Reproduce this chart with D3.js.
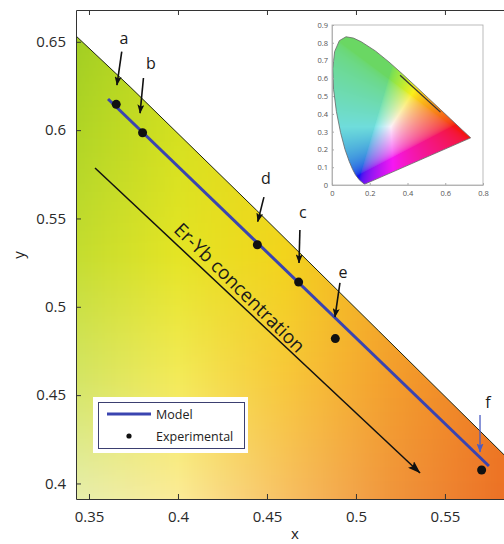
<!DOCTYPE html>
<html><head><meta charset="utf-8">
<script src="https://cdn.jsdelivr.net/npm/d3@7"></script>
<style>
body{margin:0;background:#fff;}
svg{display:block;font-family:"Open Sans",sans-serif;}
</style>
</head><body>
<script>
// ---- data ----
// CIE 1931 spectral locus (chromaticity x, y)
const locusWl = [380,420,440,450,460,470,475,480,485,490,495,500,505,510,515,520,525,530,540,550,560,570,580,590,600,620,640,700];
const locusX = [0.1741,0.1714,0.1644,0.1566,0.1440,0.1241,0.1096,0.0913,0.0687,0.0454,0.0235,0.0082,0.0039,0.0139,0.0389,0.0743,0.1142,0.1547,0.2296,0.3016,0.3731,0.4441,0.5125,0.5752,0.6270,0.6915,0.7190,0.7347];
const locusY = [0.0050,0.0051,0.0109,0.0177,0.0297,0.0578,0.0868,0.1327,0.2007,0.2950,0.4127,0.5384,0.6548,0.7502,0.8120,0.8338,0.8262,0.8059,0.7543,0.6923,0.6245,0.5547,0.4866,0.4242,0.3725,0.3083,0.2809,0.2653];

const modelX = [0.3607, 0.5747];
const modelY = [0.6176, 0.4099];

const expNames = ["a","b","d","c","e","f"];
const expX = [0.3653, 0.3801, 0.4446, 0.4678, 0.4884, 0.5706];
const expY = [0.6146, 0.5985, 0.5351, 0.5140, 0.4820, 0.4076];

// annotation arrows (data coordinates): tail, tip, label
const annTailX = [0.3684, 0.3806, 0.4483, 0.4685, 0.4910, 0.5697];
const annTailY = [0.6444, 0.6295, 0.5621, 0.5435, 0.5135, 0.4388];
const annTipX  = [0.3657, 0.3787, 0.4448, 0.4680, 0.4882, 0.5697];
const annTipY  = [0.6255, 0.6096, 0.5482, 0.5248, 0.4942, 0.4178];
const annLabX  = [0.3697, 0.3848, 0.4494, 0.4702, 0.4927, 0.5742];
const annLabY  = [0.6521, 0.6378, 0.5729, 0.5537, 0.5197, 0.4461];

const trendX = [0.3534, 0.5360];
const trendY = [0.5786, 0.4059];
const trendLabel = "Er-Yb concentration";

const xTicks = [0.35, 0.4, 0.45, 0.5, 0.55];
const yTicks = [0.4, 0.45, 0.5, 0.55, 0.6, 0.65];
const insetXTicks = [0, 0.2, 0.4, 0.6, 0.8];
const insetYTicks = [0, 0.1, 0.2, 0.3, 0.4, 0.5, 0.6, 0.7, 0.8, 0.9];

const legendLabels = ["Model", "Experimental"];

// background colour anchors of the zoomed chromaticity region
const bgGridX = [0.34, 0.40, 0.46, 0.52, 0.58];
const bgGridY = [0.39, 0.46, 0.53, 0.60, 0.67];
const bgColors = [
  ["#e6eeae", "#fbeb98", "#f7c064", "#f0953c", "#ec7226"],
  ["#d2e464", "#f3ea58", "#f7c83a", "#f39e2c", "#ef7c22"],
  ["#c2dc30", "#e4e424", "#f2d41c", "#f4aa28", "#f08c22"],
  ["#aed426", "#d4e020", "#ecd81a", "#f2b624", "#ee9622"],
  ["#9acb22", "#c2da1e", "#e4d81a", "#f0be22", "#eca022"]
];

// ---- layout ----
const W = 504, H = 544;
const L = 76, T = 10, R = 506, B = 499;
const xS = d3.scaleLinear().domain([0.3427, 0.5843]).range([L, R]);
const yS = d3.scaleLinear().domain([0.3912, 0.6680]).range([B, T]);

const svg = d3.select("body").append("svg").attr("width", W).attr("height", H);
const defs = svg.append("defs");
defs.append("clipPath").attr("id", "plotClip").append("rect")
  .attr("x", L).attr("y", T).attr("width", R - L).attr("height", B - T);

function mk(id, color, len, wid) {
  defs.append("marker").attr("id", id)
    .attr("viewBox", `0 0 ${len} ${wid}`).attr("refX", len - 0.5).attr("refY", wid / 2)
    .attr("markerWidth", len).attr("markerHeight", wid)
    .attr("markerUnits", "userSpaceOnUse").attr("orient", "auto")
    .append("path").attr("d", `M0,0 L${len},${wid/2} L0,${wid} L${len*0.2},${wid/2} Z`).attr("fill", color);
}
mk("ahK", "#111", 9, 7);
mk("ahBig", "#111", 13, 9);
mk("ahBlue", "#4a5cc4", 9, 7);

const locus = locusX.map((x, i) => [x, locusY[i]]);

// ---- main background (canvas -> image) ----
const pw = R - L, ph = B - T;
const cv = document.createElement("canvas");
cv.width = pw; cv.height = ph;
const ctx = cv.getContext("2d");
const img = ctx.createImageData(pw, ph);
const rowScales = bgColors.map(row => d3.scaleLinear().domain(bgGridX).range(row).interpolate(d3.interpolateRgb).clamp(true));
for (let i = 0; i < pw; i++) {
  const xv = xS.invert(L + i + 0.5);
  const cols = rowScales.map(s => d3.rgb(s(xv)));
  for (let j = 0; j < ph; j++) {
    const yv = yS.invert(T + j + 0.5);
    let k = 0;
    while (k < bgGridY.length - 2 && yv > bgGridY[k + 1]) k++;
    let t = (yv - bgGridY[k]) / (bgGridY[k + 1] - bgGridY[k]);
    t = Math.max(0, Math.min(1, t));
    const a = cols[k], b = cols[k + 1];
    const p = (j * pw + i) * 4;
    img.data[p] = a.r + (b.r - a.r) * t;
    img.data[p + 1] = a.g + (b.g - a.g) * t;
    img.data[p + 2] = a.b + (b.b - a.b) * t;
    img.data[p + 3] = 255;
  }
}
ctx.putImageData(img, 0, 0);

const lower = locus.filter((d, i) => locusWl[i] >= 530 && locusWl[i] <= 620);
const clipPoly = lower.concat([[lower[lower.length - 1][0], 0.2], [lower[0][0], 0.2]]);
defs.append("clipPath").attr("id", "locusClip").append("path")
  .attr("d", d3.line().x(d => xS(d[0])).y(d => yS(d[1]))(clipPoly) + "Z");

const plot = svg.append("g").attr("clip-path", "url(#plotClip)");
plot.append("g").attr("clip-path", "url(#locusClip)")
  .append("image").attr("x", L).attr("y", T).attr("width", pw).attr("height", ph)
  .attr("preserveAspectRatio", "none")
  .attr("href", cv.toDataURL());

plot.append("path").datum(locus)
  .attr("d", d3.line().x(d => xS(d[0])).y(d => yS(d[1])))
  .attr("fill", "none").attr("stroke", "#1e2410").attr("stroke-width", 1);

// ---- axes ----
const axB = svg.append("g").attr("transform", `translate(0,${B})`)
  .call(d3.axisBottom(xS).tickValues(xTicks).tickSizeInner(-5).tickSizeOuter(0).tickPadding(12).tickFormat(d3.format("")));
const axL = svg.append("g").attr("transform", `translate(${L},0)`)
  .call(d3.axisLeft(yS).tickValues(yTicks).tickSizeInner(-5).tickSizeOuter(0).tickPadding(10).tickFormat(d3.format("")));
const axT = svg.append("g").attr("transform", `translate(0,${T})`)
  .call(d3.axisTop(xS).tickValues(xTicks).tickSizeInner(-5).tickSizeOuter(0).tickFormat(""));
[axB, axL, axT].forEach(a => {
  a.select(".domain").attr("stroke", "#333").attr("stroke-width", 1);
  a.selectAll(".tick line").attr("stroke", "#333");
  a.selectAll(".tick text").attr("font-family", "Open Sans, sans-serif").attr("font-size", 15).attr("fill", "#2a2a2a");
});
svg.append("text").attr("x", 295).attr("y", 533).attr("text-anchor", "middle").attr("dominant-baseline", "central")
  .attr("font-size", 15).attr("fill", "#222").text("x");
svg.append("text").attr("transform", "translate(18,255) rotate(-90)").attr("text-anchor", "middle").attr("dominant-baseline", "central")
  .attr("font-size", 15).attr("fill", "#222").text("y");

// ---- model line & experimental points ----
const over = svg.append("g").attr("clip-path", "url(#plotClip)");
over.append("path").datum(modelX.map((x, i) => [x, modelY[i]]))
  .attr("d", d3.line().x(d => xS(d[0])).y(d => yS(d[1])))
  .attr("stroke", "#3a44b0").attr("stroke-width", 3).attr("fill", "none");
over.selectAll("circle.exp").data(expX.map((x, i) => [x, expY[i]])).join("circle")
  .attr("class", "exp").attr("cx", d => xS(d[0])).attr("cy", d => yS(d[1])).attr("r", 4.5).attr("fill", "#111");

expNames.forEach((n, i) => {
  const blue = n === "f";
  over.append("line")
    .attr("x1", xS(annTailX[i])).attr("y1", yS(annTailY[i]))
    .attr("x2", xS(annTipX[i])).attr("y2", yS(annTipY[i]))
    .attr("stroke", blue ? "#4a5cc4" : "#111").attr("stroke-width", blue ? 1.3 : 1.6)
    .attr("marker-end", blue ? "url(#ahBlue)" : "url(#ahK)");
  over.append("text").attr("x", xS(annLabX[i])).attr("y", yS(annLabY[i]))
    .attr("text-anchor", "middle").attr("dominant-baseline", "central")
    .attr("font-size", 16).attr("fill", "#1a1a1a").text(n);
});

const tx1 = xS(trendX[0]), ty1 = yS(trendY[0]), tx2 = xS(trendX[1]), ty2 = yS(trendY[1]);
over.append("line").attr("x1", tx1).attr("y1", ty1).attr("x2", tx2).attr("y2", ty2)
  .attr("stroke", "#111").attr("stroke-width", 1.5).attr("marker-end", "url(#ahBig)");
const len = Math.hypot(tx2 - tx1, ty2 - ty1);
const ux = (tx2 - tx1) / len, uy = (ty2 - ty1) / len;
const ang = Math.atan2(ty2 - ty1, tx2 - tx1) * 180 / Math.PI + 1.5;
const along = len * 0.42, perp = 5;
const cx = tx1 + ux * along + uy * perp, cy = ty1 + uy * along - ux * perp;
over.append("text").attr("transform", `translate(${cx},${cy}) rotate(${ang})`)
  .attr("text-anchor", "middle").attr("font-size", 19).attr("fill", "#1a1a1a").text(trendLabel);

// ---- legend ----
const lg = svg.append("g");
lg.append("rect").attr("x", 93).attr("y", 397).attr("width", 155).attr("height", 56).attr("fill", "#fff");
lg.append("rect").attr("x", 98.5).attr("y", 402.5).attr("width", 146).attr("height", 46)
  .attr("fill", "none").attr("stroke", "#3b3f70").attr("stroke-width", 1);
lg.append("line").attr("x1", 107).attr("x2", 151).attr("y1", 414).attr("y2", 414)
  .attr("stroke", "#3a44b0").attr("stroke-width", 3);
lg.append("circle").attr("cx", 129).attr("cy", 436).attr("r", 2.6).attr("fill", "#111");
lg.selectAll("text").data(legendLabels).join("text")
  .attr("x", 156).attr("y", (d, i) => 414 + i * 22).attr("dominant-baseline", "central")
  .attr("font-size", 12.5).attr("fill", "#222").text(d => d);

// ---- inset CIE diagram ----
const ixS = d3.scaleLinear().domain([0, 0.8]).range([332, 483]);
const iyS = d3.scaleLinear().domain([0, 0.9]).range([185, 25]);
const inset = svg.append("g");
inset.append("rect").attr("x", 332).attr("y", 25).attr("width", 151).attr("height", 160).attr("fill", "#fff");

const iw = 151, ih = 160;
const cv2 = document.createElement("canvas");
cv2.width = iw; cv2.height = ih;
const c2 = cv2.getContext("2d");
const im2 = c2.createImageData(iw, ih);
function gam(v) { return v <= 0.0031308 ? 12.92 * v : 1.055 * Math.pow(v, 1 / 2.4) - 0.055; }
for (let i = 0; i < iw; i++) {
  for (let j = 0; j < ih; j++) {
    const x = ixS.invert(332 + i + 0.5), y = iyS.invert(25 + j + 0.5);
    const yy = Math.max(y, 0.005);
    const X = x / yy, Y = 1, Z = (1 - x - yy) / yy;
    let r = 3.2406 * X - 1.5372 * Y - 0.4986 * Z;
    let g = -0.9689 * X + 1.8758 * Y + 0.0415 * Z;
    let b = 0.0557 * X - 0.2040 * Y + 1.0570 * Z;
    r = Math.max(r, 0); g = Math.max(g, 0); b = Math.max(b, 0);
    const m = Math.max(r, g, b, 1e-6);
    r = gam(r / m); g = gam(g / m); b = gam(b / m);
    const lum = 0.3 * r + 0.59 * g + 0.11 * b;
    const s = 0.45 + 0.42 * (1 - g * (1 - r));
    const base = 0.55 + 0.35 * lum;
    const p = (j * iw + i) * 4;
    im2.data[p] = 255 * Math.min(1, s * r + (1 - s) * base);
    im2.data[p + 1] = 255 * Math.min(1, s * g * 0.95 + (1 - s) * base);
    im2.data[p + 2] = 255 * Math.min(1, s * b + (1 - s) * (base - 0.05));
    im2.data[p + 3] = 255;
  }
}
c2.putImageData(im2, 0, 0);
defs.append("clipPath").attr("id", "insetClip").append("path")
  .attr("d", d3.line().x(d => ixS(d[0])).y(d => iyS(d[1]))(locus) + "Z");
inset.append("image").attr("x", 332).attr("y", 25).attr("width", iw).attr("height", ih)
  .attr("preserveAspectRatio", "none").attr("clip-path", "url(#insetClip)")
  .attr("href", cv2.toDataURL());
inset.append("path").attr("d", d3.line().x(d => ixS(d[0])).y(d => iyS(d[1]))(locus) + "Z")
  .attr("fill", "none").attr("stroke", "#666").attr("stroke-width", 0.8);
inset.append("path").datum(modelX.map((x, i) => [x, modelY[i]]))
  .attr("d", d3.line().x(d => ixS(d[0])).y(d => iyS(d[1])))
  .attr("stroke", "#333").attr("stroke-width", 1.3).attr("fill", "none");
inset.append("rect").attr("x", 332).attr("y", 25).attr("width", 151).attr("height", 160)
  .attr("fill", "none").attr("stroke", "#aaa").attr("stroke-width", 0.8);
const iaxB = inset.append("g").attr("transform", "translate(0,185)")
  .call(d3.axisBottom(ixS).tickValues(insetXTicks).tickSizeInner(-2).tickSizeOuter(0).tickPadding(6).tickFormat(d3.format("")));
const iaxL = inset.append("g").attr("transform", "translate(332,0)")
  .call(d3.axisLeft(iyS).tickValues(insetYTicks).tickSizeInner(-2).tickSizeOuter(0).tickPadding(4).tickFormat(d3.format("")));
[iaxB, iaxL].forEach(a => {
  a.select(".domain").attr("stroke", "#aaa").attr("stroke-width", 0.8);
  a.selectAll(".tick line").attr("stroke", "#aaa");
  a.selectAll(".tick text").attr("font-family", "Open Sans, sans-serif").attr("font-size", 7.5).attr("fill", "#555");
});
</script>
</body></html>
